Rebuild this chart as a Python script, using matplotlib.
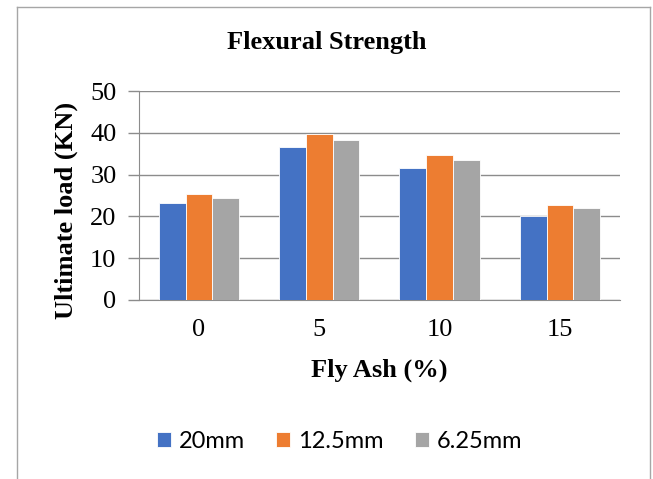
import numpy as np
import matplotlib.pyplot as plt

# data
fly_ash = ["0", "5", "10", "15"]
load_20mm = [23.2, 36.5, 31.5, 20.0]
load_12_5mm = [25.3, 39.6, 34.7, 22.8]
load_6_25mm = [24.4, 38.2, 33.5, 21.9]
series_names = ["20mm", "12.5mm", "6.25mm"]
colors = ["#4472C4", "#ED7D31", "#A5A5A5"]

fig = plt.figure(figsize=(6.53, 4.79), dpi=100)
ax = fig.add_axes([0.2124, 0.3737, 0.7371, 0.4363])

# chart frame (no bottom edge visible in the reference)
frame_color = "#A6A6A6"
fx0, fx1, fy1 = 16.5 / 653, 650 / 653, 1 - 7 / 479
fig.add_artist(plt.Line2D([fx0, fx0], [0, fy1], color=frame_color, lw=1,
                          transform=fig.transFigure))
fig.add_artist(plt.Line2D([fx1, fx1], [0, fy1], color=frame_color, lw=1,
                          transform=fig.transFigure))
fig.add_artist(plt.Line2D([fx0, fx1], [fy1, fy1], color=frame_color, lw=1,
                          transform=fig.transFigure))

x = np.arange(len(fly_ash))
w = 0.222
for i, (vals, name, c) in enumerate(zip([load_20mm, load_12_5mm, load_6_25mm],
                                        series_names, colors)):
    ax.bar(x + (i - 1) * w, vals, w, color=c, edgecolor="white",
           linewidth=0.6, label=name, zorder=3)

ax.set_xlim(-0.5, len(fly_ash) - 0.5)
ax.set_ylim(0, 50)
ax.set_yticks(np.arange(0, 51, 10))
ax.set_xticks(x)
ax.set_xticklabels(fly_ash)

grid_color = "#8C8C8C"
ax.grid(axis="y", color=grid_color, lw=1, zorder=0)
for s in ["top", "right"]:
    ax.spines[s].set_visible(False)
ax.spines["left"].set_color(grid_color)
ax.spines["bottom"].set_color(grid_color)
ax.tick_params(axis="y", length=8, color=grid_color, width=1, pad=8)
ax.tick_params(axis="x", length=0, pad=14)

serif = "Liberation Serif"
fs = 19
for lab in ax.get_xticklabels() + ax.get_yticklabels():
    lab.set_fontfamily(serif)
    lab.set_fontsize(fs)

ax.set_ylabel("Ultimate load (KN)", fontfamily=serif, fontsize=fs,
              fontweight="bold")
ax.yaxis.set_label_coords(-0.126, 0.43)
ax.set_xlabel("Fly Ash (%)", fontfamily=serif, fontsize=fs,
              fontweight="bold", labelpad=12)
fig.text(0.5, 1 - 42 / 479, "Flexural Strength", ha="center", va="center",
         fontfamily=serif, fontsize=fs, fontweight="bold")

fig.legend(loc="center", bbox_to_anchor=(0.52, 1 - 441 / 479), ncol=3,
           frameon=False, prop={"family": "Lato", "size": 17},
           handlelength=0.6, handleheight=0.6, handletextpad=0.35,
           columnspacing=1.3)

fig.savefig("out.png", dpi=100)
